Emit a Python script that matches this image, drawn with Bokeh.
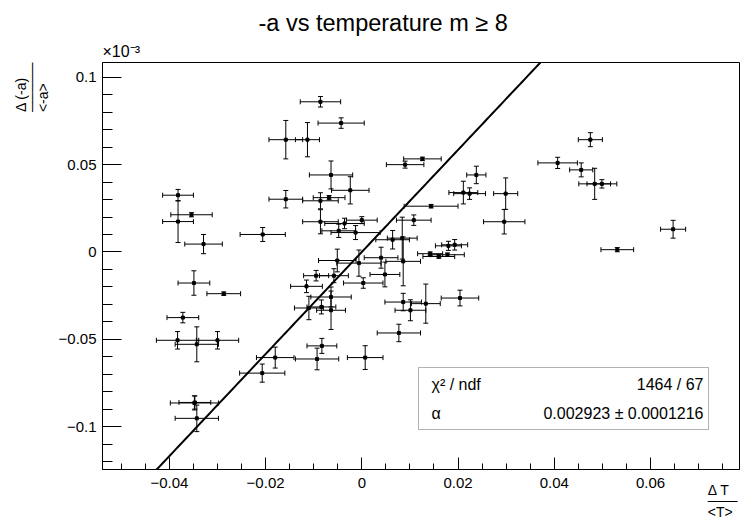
import numpy as np
from bokeh.plotting import figure
from bokeh.models import (ColumnDataSource, Whisker, TeeHead, Range1d, FixedTicker,
                          Label, BoxAnnotation, Title)
from bokeh.embed import file_html
from bokeh.resources import INLINE

# ---------------- data (y in units of 1e-3) ----------------
x_val = [-0.0382, -0.0354, -0.0382, -0.0329, -0.0206, -0.0158, -0.0158, -0.0113, -0.0086, -0.0043,
         0.0126, 0.0090, -0.0064, -0.0024, -0.0068, -0.0086, 0.0238, 0.0211, 0.0224, 0.0299,
         0.0296, 0.0144, 0.0108, -0.0086, -0.0036, 0.0000, -0.0048, -0.0013, 0.0084, 0.0064,
         0.0180, 0.0193, 0.0142, 0.0160, 0.0178, 0.0040, -0.0051, -0.0006, 0.0086, 0.0048,
         0.0003, -0.0095, -0.0058, -0.0115, -0.0064, -0.0064, -0.0084, -0.0110, 0.0086, 0.0101,
         0.0133, 0.0204, 0.0077, -0.0083, -0.0093, 0.0007, -0.0349, -0.0287, -0.0372, -0.0383,
         -0.0343, -0.0300, -0.0347, -0.0348, -0.0343, -0.0207, -0.0180, 0.0475, 0.0407, 0.0456,
         0.0484, 0.0499, 0.0647, 0.0531]
y_val = [0.0325, 0.0213, 0.0174, 0.0045, 0.0100, 0.0302, 0.0643, 0.0643, 0.0860, 0.0738,
         0.0533, 0.0500, 0.0441, 0.0353, 0.0311, 0.0293, 0.0441, 0.0340, 0.0334, 0.0334,
         0.0173, 0.0262, 0.0182, 0.0173, 0.0163, 0.0182, 0.0121, 0.0111, 0.0079, 0.0070,
         0.0035, 0.0041, -0.0010, -0.0026, -0.0016, -0.0033, -0.0049, -0.0064, -0.0054, -0.0129,
         -0.0178, -0.0136, -0.0136, -0.0197, -0.0258, -0.0334, -0.0315, -0.0321, -0.0287, -0.0334,
         -0.0296, -0.0264, -0.0464, -0.0538, -0.0613, -0.0605, -0.0178, -0.0239, -0.0376, -0.0506,
         -0.0529, -0.0506, -0.0862, -0.0865, -0.0953, -0.0694, -0.0605, 0.0643, 0.0510, 0.0470,
         0.0390, 0.0390, 0.0130, 0.0013]
x_err = [0.0032, 0.0043, 0.0032, 0.0039, 0.0047, 0.0035, 0.0035, 0.0025, 0.0042, 0.0048,
         0.0039, 0.0039, 0.0045, 0.0039, 0.0033, 0.0037, 0.0020, 0.0030, 0.0033, 0.0025,
         0.0043, 0.0056, 0.0036, 0.0037, 0.0041, 0.0032, 0.0035, 0.0051, 0.0031, 0.0035,
         0.0027, 0.0027, 0.0026, 0.0033, 0.0035, 0.0035, 0.0039, 0.0046, 0.0036, 0.0031,
         0.0041, 0.0026, 0.0030, 0.0033, 0.0042, 0.0030, 0.0030, 0.0030, 0.0038, 0.0032,
         0.0030, 0.0039, 0.0045, 0.0031, 0.0045, 0.0037, 0.0033, 0.0035, 0.0033, 0.0044,
         0.0045, 0.0044, 0.0033, 0.0050, 0.0045, 0.0047, 0.0039, 0.0025, 0.0041, 0.0024,
         0.0033, 0.0031, 0.0026, 0.0034]
y_err = [0.0033, 0.0012, 0.0120, 0.0055, 0.0040, 0.0050, 0.0110, 0.0098, 0.0030, 0.0030,
         0.0010, 0.0020, 0.0080, 0.0078, 0.0012, 0.0046, 0.0050, 0.0065, 0.0033, 0.0090,
         0.0070, 0.0010, 0.0030, 0.0069, 0.0030, 0.0020, 0.0038, 0.0040, 0.0120, 0.0053,
         0.0026, 0.0030, 0.0010, 0.0010, 0.0010, 0.0060, 0.0065, 0.0075, 0.0140, 0.0071,
         0.0030, 0.0030, 0.0040, 0.0036, 0.0057, 0.0110, 0.0040, 0.0067, 0.0050, 0.0060,
         0.0112, 0.0045, 0.0050, 0.0043, 0.0062, 0.0068, 0.0070, 0.0010, 0.0030, 0.0050,
         0.0100, 0.0050, 0.0038, 0.0040, 0.0076, 0.0052, 0.0060, 0.0040, 0.0032, 0.0040,
         0.0089, 0.0024, 0.0051, 0.0012]

alpha = 0.002923
alpha_err = 0.0001216
chi2 = 1464
ndf = 67
y_scale_exp = 1e-3

x_ticks = [-0.04, -0.02, 0.0, 0.02, 0.04, 0.06]
x_tick_labels = ["\u22120.04", "\u22120.02", "0", "0.02", "0.04", "0.06"]
y_ticks = [-0.1, -0.05, 0.0, 0.05, 0.1]
y_tick_labels = ["\u22120.1", "\u22120.05", "0", "0.05", "0.1"]

# ---------------- layout ----------------
W, H = 741, 520
FL, FT, FR, FB = 102, 62, 739, 469          # frame box in canvas px
X0, X1 = -0.0539, 0.0785
Y0, Y1 = -0.1246, 0.1085
FONT = "Liberation Sans"

def dx(px):  # canvas px -> data x
    return X0 + (px - FL) / (FR - FL) * (X1 - X0)

def dy(py):
    return Y1 - (py - FT) / (FB - FT) * (Y1 - Y0)

p = figure(width=W, height=H, output_backend="svg", toolbar_location=None,
           x_range=Range1d(X0, X1), y_range=Range1d(Y0, Y1),
           min_border_left=FL, min_border_right=W - FR, min_border_top=FT,
           min_border_bottom=H - FB)
p.background_fill_color = "white"
p.border_fill_color = "white"
p.grid.visible = False
p.outline_line_color = "black"
p.outline_line_width = 1

for ax, ticks, labels, maj, mnr, minor in (
        (p.xaxis[0], x_ticks, x_tick_labels, 12, 6, list(np.round(np.arange(-0.05, 0.0751, 0.005), 4))),
        (p.yaxis[0], y_ticks, y_tick_labels, 19, 10, list(np.round(np.arange(-0.12, 0.1051, 0.01), 3)))):
    ax.ticker = FixedTicker(ticks=ticks, minor_ticks=minor)
    ax.major_label_overrides = {t: l for t, l in zip(ticks, labels)}
    ax.major_tick_in = maj
    ax.major_tick_out = 0
    ax.minor_tick_in = mnr
    ax.minor_tick_out = 0
    ax.axis_line_color = "black"
    ax.major_tick_line_color = "black"
    ax.minor_tick_line_color = "black"
    ax.major_label_text_font = FONT
    ax.major_label_text_font_size = "15px"
    ax.major_label_text_color = "black"
p.xaxis.major_label_standoff = 8
p.yaxis.major_label_standoff = 6

# titles (side panels are not clipped)
p.title = Title(text="-a vs temperature m \u2265 8", text_font=FONT, text_font_size="23.5px",
                text_font_style="normal", align="left", offset=156, standoff=3,
                text_color="black")
p.add_layout(Title(text="\u00d710\u207b\u00b3", text_font=FONT, text_font_size="16px",
                   text_font_style="normal", align="left", offset=0, standoff=6,
                   text_color="black"), "above")
p.add_layout(Title(text="\u0394 (-a)\n\u2500\u2500\u2500\u2500\u2500\n<-a>", text_font=FONT,
                   text_font_size="14px", text_font_style="normal", text_line_height=0.7,
                   align="right", offset=0, standoff=9, text_color="black"), "left")
# x-axis title: negative standoff lets it sit beside the tick labels
p.add_layout(Title(text="\u0394 T\n\u2500\u2500\u2500\n<T>", text_font=FONT,
                   text_font_size="14px", text_font_style="normal", text_line_height=0.7,
                   align="right", vertical_align="top", offset=2, standoff=-18,
                   text_color="black"), "below")

# ---------------- data marks ----------------
xv = np.array(x_val); yv = np.array(y_val)
xe = np.array(x_err); ye = np.array(y_err)
src = ColumnDataSource(dict(x=xv, y=yv, xl=xv - xe, xu=xv + xe, yl=yv - ye, yu=yv + ye))

for dim, base, lo, hi in (("width", "y", "xl", "xu"), ("height", "x", "yl", "yu")):
    w = Whisker(source=src, base=base, lower=lo, upper=hi, dimension=dim,
                line_color="black", line_width=1,
                lower_head=TeeHead(size=5, line_color="black", line_width=1),
                upper_head=TeeHead(size=5, line_color="black", line_width=1))
    p.add_layout(w)
p.scatter("x", "y", source=src, marker="square", size=3, color="black")

# fit line y = alpha * x  (shown in units of 1e-3)
fx = np.linspace(X0, X1, 200)
fy = alpha * fx / y_scale_exp
p.line(fx, fy, line_color="black", line_width=2)

# ---------------- stats box ----------------
def lab(text, px, py, size, align="left", base="middle"):
    p.add_layout(Label(x=px - FL, y=FB - py, x_units="screen", y_units="screen",
                       text=text, text_font=FONT,
                       text_font_size=f"{size}px", text_align=align,
                       text_baseline=base, text_color="black"))

p.add_layout(BoxAnnotation(left=dx(418), right=dx(708), bottom=dy(429), top=dy(367),
                           fill_color="white", fill_alpha=1, line_color="black", line_width=1))
lab("\u03c7\u00b2 / ndf", 431, 384, 16)
lab(f"{chi2} / {ndf}", 703, 384, 16, align="right")
lab("\u03b1", 431, 413, 16)
lab(f"{alpha:.6f} \u00b1 {alpha_err:.7f}", 703, 413, 16, align="right")

open("out.html", "w").write(file_html(p, INLINE))
